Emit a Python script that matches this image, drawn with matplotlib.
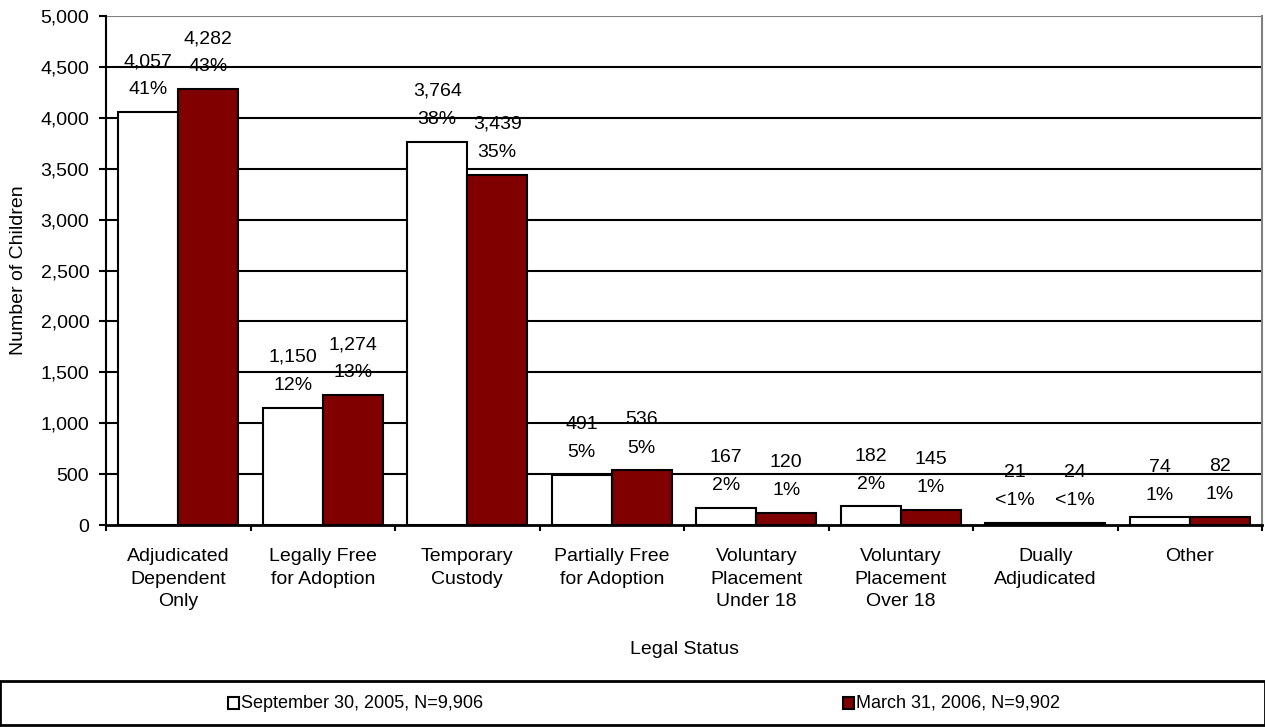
import matplotlib
matplotlib.use("Agg")
import matplotlib.pyplot as plt
import numpy as np
from matplotlib.patches import Rectangle

categories = ["Adjudicated\nDependent\nOnly", "Legally Free\nfor Adoption", "Temporary\nCustody",
              "Partially Free\nfor Adoption", "Voluntary\nPlacement\nUnder 18", "Voluntary\nPlacement\nOver 18",
              "Dually\nAdjudicated", "Other"]
sep2005 = [4057, 1150, 3764, 491, 167, 182, 21, 74]
mar2006 = [4282, 1274, 3439, 536, 120, 145, 24, 82]
pct2005 = ["41%", "12%", "38%", "5%", "2%", "2%", "<1%", "1%"]
pct2006 = ["43%", "13%", "35%", "5%", "1%", "1%", "<1%", "1%"]
series_names = ["September 30, 2005, N=9,906", "March 31, 2006, N=9,902"]
yticks = [0, 500, 1000, 1500, 2000, 2500, 3000, 3500, 4000, 4500, 5000]

plt.rcParams['font.family'] = ['Liberation Sans', 'DejaVu Sans']
FS = 14

fig = plt.figure(figsize=(12.65, 7.27), dpi=100)
ax = fig.add_axes([106/1265, 1-525/727, (1262-106)/1265, (525-16)/727])

x = np.arange(len(categories))
w = 0.415
ax.bar(x - w/2, sep2005, w, color="white", edgecolor="black", linewidth=1.5, zorder=3)
ax.bar(x + w/2, mar2006, w, color="#800000", edgecolor="black", linewidth=1.5, zorder=3)

for xi, v, p in zip(x - w/2, sep2005, pct2005):
    ax.annotate(f"{v:,}\n{p}", (xi, v), xytext=(0, 10), textcoords="offset points",
                ha="center", va="bottom", fontsize=FS, linespacing=1.85, zorder=4)
for xi, v, p in zip(x + w/2, mar2006, pct2006):
    ax.annotate(f"{v:,}\n{p}", (xi, v), xytext=(0, 10), textcoords="offset points",
                ha="center", va="bottom", fontsize=FS, linespacing=1.85, zorder=4)

ax.set_xlim(-0.5, len(categories) - 0.5)
ax.set_ylim(0, 5000)
ax.set_yticks(yticks)
ax.set_yticklabels([f"{t:,}" for t in yticks], fontsize=FS)
for t in yticks[1:-1]:
    ax.axhline(t, color="black", linewidth=1.5, zorder=1)
ax.axhline(5000, color="#808080", linewidth=1.5, zorder=1)

ax.set_xticks(np.arange(len(categories) + 1) - 0.5)
ax.set_xticklabels([])
ax.tick_params(axis="x", length=4.5, width=1.5, direction="out")
ax.tick_params(axis="y", length=5, width=1.5, direction="out", pad=7)
for xi, c in zip(x, categories):
    ax.text(xi, -230, c, ha="center", va="top", fontsize=FS, linespacing=1.42,
            transform=ax.transData)

ax.spines["left"].set_linewidth(1.5)
ax.spines["bottom"].set_linewidth(2)
ax.spines["top"].set_visible(False)
ax.spines["right"].set_color("#808080")
ax.spines["right"].set_linewidth(1.5)

ax.set_ylabel("Number of Children", fontsize=FS)
ax.yaxis.set_label_coords(-(106-27)/1156, 0.5)
fig.text((106+1262)/2/1265, 1-650/727, "Legal Status", ha="center", va="center", fontsize=FS)

# legend box
fig.patches.append(Rectangle((0, 1-725/727), 1, (725-681)/727, transform=fig.transFigure,
                             facecolor="white", edgecolor="black", linewidth=2))
for xpos, fc, name in [(228, "white", series_names[0]), (843, "#800000", series_names[1])]:
    fig.patches.append(Rectangle((xpos/1265, 1-709/727), 11/1265, 12/727, transform=fig.transFigure,
                                 facecolor=fc, edgecolor="black", linewidth=1.5))
    fig.text((xpos+13)/1265, 1-703/727, name, ha="left", va="center", fontsize=13)

fig.savefig("out.png", dpi=100)
